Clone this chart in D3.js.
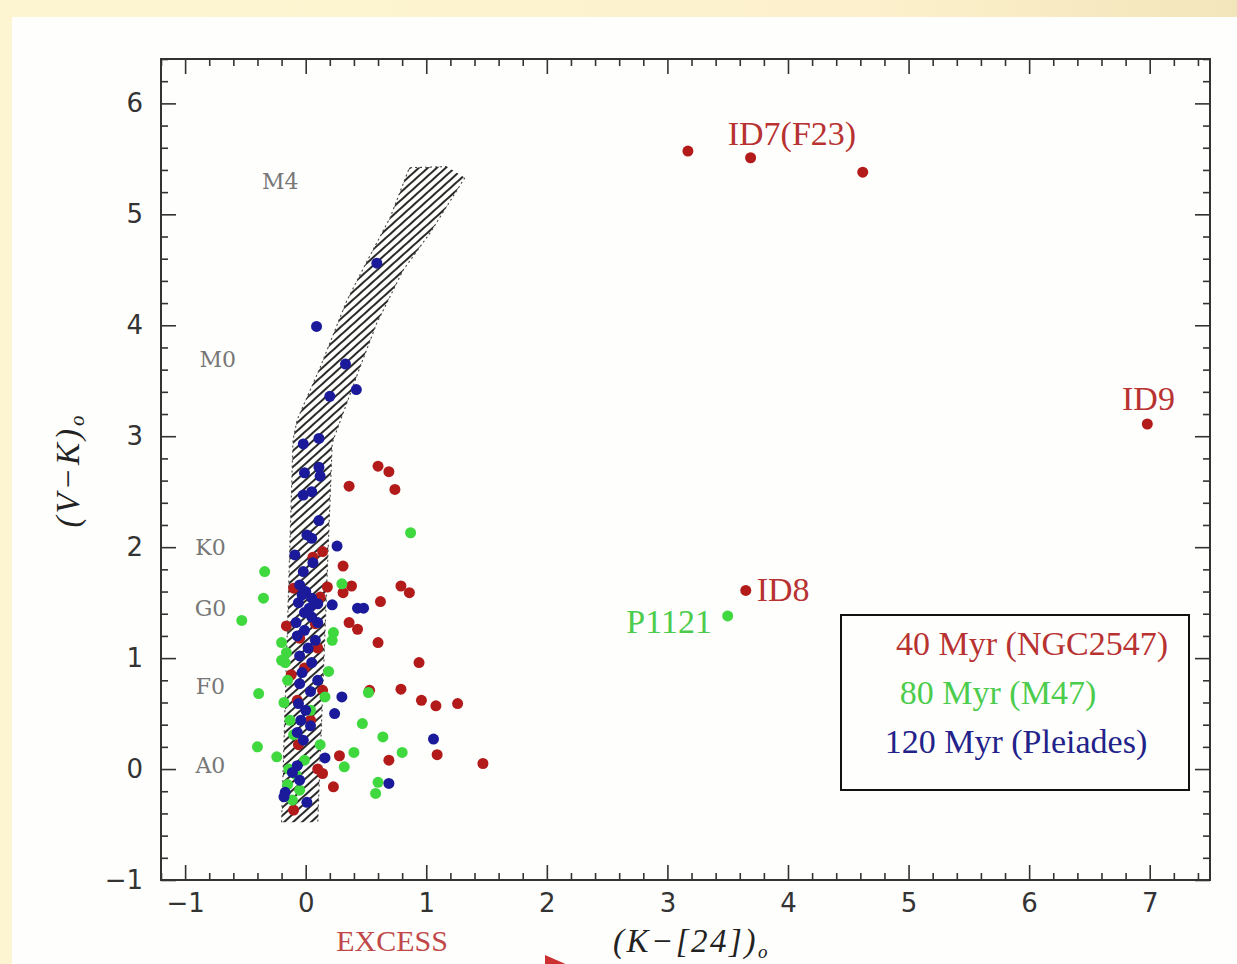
<!DOCTYPE html>
<html>
<head>
<meta charset="utf-8">
<script src="https://cdn.jsdelivr.net/npm/d3@7"></script>
<style>
  html, body { margin: 0; padding: 0; }
  body { width: 1237px; height: 964px; overflow: hidden; background: #fdf4d0; }
  svg { display: block; }
</style>
</head>
<body>
<svg id="chart" width="1237" height="964"></svg>
<script>
// ---- Data: (K-[24])_0 excess vs (V-K)_0 colour ----
// 40 Myr, NGC 2547
const ngc2547 = [
  [3.17, 5.57], [3.69, 5.51], [4.62, 5.38], [6.98, 3.11], [3.65, 1.61], [1.47, 0.05],
  [0.60, 2.73], [0.69, 2.68], [0.36, 2.55], [0.74, 2.52],
  [0.31, 1.83], [0.38, 1.65], [0.31, 1.59], [0.79, 1.65], [0.86, 1.59], [0.62, 1.51],
  [0.36, 1.32], [0.43, 1.26], [0.60, 1.14], [0.94, 0.96], [0.79, 0.72], [0.53, 0.71],
  [0.96, 0.62], [1.08, 0.57], [1.26, 0.59], [0.28, 0.12], [0.69, 0.08], [1.09, 0.13],
  [0.14, -0.04], [0.23, -0.16],
  [0.14, 1.96], [0.06, 1.91], [-0.10, 1.63], [0.18, 1.64], [-0.16, 1.29], [0.08, 1.31],
  [-0.05, 1.18], [0.10, 1.09], [-0.01, 0.91], [0.14, 0.71], [-0.07, 0.62], [0.04, 0.44],
  [-0.06, 0.22], [0.10, 0.00], [-0.10, -0.37], [0.12, 1.55], [-0.12, 0.85]
];
// 80 Myr, M47
const m47 = [
  [3.50, 1.38], [0.87, 2.13], [-0.34, 1.78], [-0.35, 1.54], [-0.53, 1.34], [-0.39, 0.68],
  [-0.40, 0.20], [0.30, 1.67], [0.23, 1.23], [0.22, 1.16], [0.19, 0.88], [0.52, 0.69],
  [0.16, 0.65], [0.47, 0.41], [0.64, 0.29], [0.40, 0.15], [0.80, 0.15], [0.32, 0.02],
  [0.60, -0.12], [0.58, -0.22], [-0.24, 0.11], [-0.18, 0.60], [-0.20, 1.14], [-0.20, 0.98],
  [-0.17, 0.96], [-0.11, -0.28], [-0.13, 0.44], [-0.10, 0.31], [-0.08, -0.05], [-0.15, -0.14],
  [-0.05, -0.19], [-0.01, 0.08], [0.12, 0.22], [0.04, 0.53], [-0.15, 0.80], [-0.16, 1.05],
  [-0.14, 0.00]
];
// 120 Myr, Pleiades
const pleiades = [
  [0.59, 4.56], [0.09, 3.99], [0.33, 3.65], [0.42, 3.42], [0.20, 3.36], [0.11, 2.98],
  [-0.02, 2.93], [-0.01, 2.67], [0.11, 2.72], [0.12, 2.64], [-0.02, 2.47], [0.05, 2.50],
  [0.11, 2.24], [0.01, 2.11], [0.05, 2.08], [-0.09, 1.93], [0.06, 1.86], [-0.02, 1.78],
  [0.26, 2.01], [0.22, 1.48], [0.43, 1.45], [0.48, 1.45], [0.30, 0.65], [0.24, 0.50],
  [1.06, 0.27], [0.16, 0.10], [0.69, -0.13], [-0.17, -0.21], [-0.18, -0.25], [0.01, -0.30],
  [-0.05, 1.66], [0.00, 1.60], [0.05, 1.54], [-0.06, 1.50], [0.10, 1.49], [-0.01, 1.41],
  [0.05, 1.37], [-0.08, 1.32], [0.10, 1.32], [-0.01, 1.25], [-0.07, 1.20], [0.08, 1.16],
  [0.02, 1.09], [-0.05, 1.02], [0.05, 0.96], [-0.03, 0.87], [0.10, 0.80], [-0.05, 0.77],
  [0.04, 0.70], [-0.06, 0.59], [0.00, 0.53], [-0.04, 0.44], [0.04, 0.39], [-0.07, 0.33],
  [-0.02, 0.26], [-0.07, 0.03], [-0.11, -0.03], [-0.05, -0.10], [0.03, 1.45], [-0.03, 1.57]
];

// Photospheric locus band: left edge (bottom to top), then right edge (top to bottom)
const bandLeft = [
  [-0.20, -0.48], [-0.105, 2.97], [-0.07, 3.15], [0.12, 3.62], [0.34, 4.22],
  [0.51, 4.58], [0.70, 4.97], [0.86, 5.42], [1.17, 5.43]
];
const bandRight = [
  [1.32, 5.33], [1.03, 4.83], [0.81, 4.50], [0.59, 4.02], [0.45, 3.62],
  [0.22, 2.94], [0.10, -0.48]
];

// Spectral type markers along the colour axis
const spectralLabels = ["M4", "M0", "K0", "G0", "F0", "A0"];
const spectralX = [-0.21, -0.73, -0.79, -0.79, -0.79, -0.79];
const spectralY = [5.30, 3.69, 2.00, 1.45, 0.74, 0.03];

// Named objects
const idLabels = ["ID7(F23)", "ID9", "ID8", "P1121"];
const idX = [3.50, 6.99, 3.74, 3.37];
const idY = [5.73, 3.34, 1.62, 1.33];
const idAnchor = ["start", "middle", "start", "end"];
const idGroup = ["ngc", "ngc", "ngc", "m47"];

const xTicks = [-1, 0, 1, 2, 3, 4, 5, 6, 7];
const yTicks = [-1, 0, 1, 2, 3, 4, 5, 6];
const legendLabels = ["40 Myr (NGC2547)", "80 Myr (M47)", "120 Myr (Pleiades)"];

// ---- Layout ----
const W = 1237, H = 964;
const frame = { left: 161, right: 1210, top: 59, bottom: 880 };
const colors = { ngc: "#b31b1b", m47: "#3fd93f", ple: "#1a1a9a" };
const textColors = { ngc: "#b83232", m47: "#4ccc4c", ple: "#22228a" };

const svg = d3.select("#chart");

// page background
const defs = svg.append("defs");
const grad = defs.append("linearGradient").attr("id", "bgGrad").attr("x1", 0).attr("x2", 1).attr("y1", 0).attr("y2", 0);
grad.append("stop").attr("offset", "0%").attr("stop-color", "#fdf5d2");
grad.append("stop").attr("offset", "70%").attr("stop-color", "#fcf1cc");
grad.append("stop").attr("offset", "100%").attr("stop-color", "#f3e5bb");
svg.append("rect").attr("width", W).attr("height", H).attr("fill", "url(#bgGrad)");
svg.append("rect").attr("x", 12).attr("y", 17).attr("width", W - 12).attr("height", H - 17).attr("fill", "#fefefc");

// hatch pattern
const pat = defs.append("pattern").attr("id", "hatch")
  .attr("patternUnits", "userSpaceOnUse").attr("width", 6).attr("height", 6)
  .attr("patternTransform", "rotate(-42)");
pat.append("line").attr("x1", 0).attr("y1", 3).attr("x2", 6).attr("y2", 3)
  .attr("stroke", "#111").attr("stroke-width", 1.8);

const x = d3.scaleLinear().domain([-1.2, 7.5]).range([frame.left, frame.right]);
const y = d3.scaleLinear().domain([-1, 6.4]).range([frame.bottom, frame.top]);

// ---- Locus band ----
const bandPoly = bandLeft.concat(bandRight);
const line = d3.line().x(d => x(d[0])).y(d => y(d[1]));
svg.append("path").attr("d", line(bandPoly) + "Z")
  .attr("fill", "url(#hatch)").attr("stroke", "none");
svg.append("path").attr("d", line(bandLeft))
  .attr("fill", "none").attr("stroke", "#444").attr("stroke-width", 1.1).attr("stroke-dasharray", "2,3");
svg.append("path").attr("d", line(bandRight))
  .attr("fill", "none").attr("stroke", "#444").attr("stroke-width", 1.1).attr("stroke-dasharray", "2,3");

// ---- Points ----
function drawSeries(data, color) {
  svg.append("g").selectAll("circle").data(data).join("circle")
    .attr("cx", d => x(d[0])).attr("cy", d => y(d[1])).attr("r", 5.5)
    .attr("fill", color);
}
drawSeries(ngc2547, colors.ngc);
drawSeries(m47, colors.m47);
drawSeries(pleiades, colors.ple);

// ---- Frame and ticks ----
const minorX = d3.range(-1.2, 7.5, 0.2).map(v => +v.toFixed(1)).filter(v => Math.abs(v - Math.round(v)) > 1e-6);
const minorY = d3.range(-1, 6.41, 0.2).map(v => +v.toFixed(1)).filter(v => Math.abs(v - Math.round(v)) > 1e-6);
const MAJ = 15, MIN = 7;

function axisGroup(axis, tx, ty) {
  const g = svg.append("g").attr("transform", `translate(${tx},${ty})`).call(axis);
  g.select(".domain").remove();
  g.selectAll(".tick line").attr("stroke", "#333").attr("stroke-width", 1.6);
  return g;
}
const fmt = d => d < 0 ? "\u2212" + Math.abs(d) : String(d);

// bottom
axisGroup(d3.axisBottom(x).tickValues(minorX).tickSize(-MIN).tickFormat(""), 0, frame.bottom);
const gb = axisGroup(d3.axisBottom(x).tickValues(xTicks).tickSize(-MAJ).tickPadding(14).tickFormat(fmt), 0, frame.bottom);
// top
axisGroup(d3.axisTop(x).tickValues(minorX).tickSize(-MIN).tickFormat(""), 0, frame.top);
axisGroup(d3.axisTop(x).tickValues(xTicks).tickSize(-MAJ).tickFormat(""), 0, frame.top);
// left
axisGroup(d3.axisLeft(y).tickValues(minorY).tickSize(-MIN).tickFormat(""), frame.left, 0);
const gl = axisGroup(d3.axisLeft(y).tickValues(yTicks).tickSize(-MAJ).tickPadding(18).tickFormat(fmt), frame.left, 0);
// right
axisGroup(d3.axisRight(y).tickValues(minorY).tickSize(-MIN).tickFormat(""), frame.right, 0);
axisGroup(d3.axisRight(y).tickValues(yTicks).tickSize(-MAJ).tickFormat(""), frame.right, 0);

[gb, gl].forEach(g => g.selectAll(".tick text")
  .attr("font-family", "'DejaVu Sans', sans-serif").attr("font-size", 26)
  .attr("fill", "#333"));

svg.append("rect")
  .attr("x", frame.left).attr("y", frame.top)
  .attr("width", frame.right - frame.left).attr("height", frame.bottom - frame.top)
  .attr("fill", "none").attr("stroke", "#333").attr("stroke-width", 2);

// ---- Spectral type labels ----
svg.append("g").selectAll("text").data(spectralLabels).join("text")
  .attr("x", (d, i) => x(spectralX[i])).attr("y", (d, i) => y(spectralY[i]))
  .attr("text-anchor", "middle").attr("dominant-baseline", "central")
  .attr("font-family", "'DejaVu Serif', serif").attr("font-size", 22)
  .attr("fill", "#777").text(d => d);

// ---- Object labels ----
svg.append("g").selectAll("text").data(idLabels).join("text")
  .attr("x", (d, i) => x(idX[i])).attr("y", (d, i) => y(idY[i]))
  .attr("text-anchor", (d, i) => idAnchor[i]).attr("dominant-baseline", "central")
  .attr("font-family", "'Liberation Serif', serif").attr("font-size", 34)
  .attr("fill", (d, i) => textColors[idGroup[i]]).text(d => d);

// ---- Legend ----
const lg = svg.append("g");
lg.append("rect").attr("x", 841).attr("y", 615).attr("width", 348).attr("height", 175)
  .attr("fill", "#fefefc").attr("stroke", "#111").attr("stroke-width", 2);
const legendX = [1032, 998, 1016];
const legendColor = [textColors.ngc, textColors.m47, textColors.ple];
lg.selectAll("text.lab").data(legendLabels).join("text").attr("class", "lab")
  .attr("x", (d, i) => legendX[i]).attr("y", (d, i) => 643 + i * 49)
  .attr("text-anchor", "middle").attr("dominant-baseline", "central")
  .attr("font-family", "'Liberation Serif', serif").attr("font-size", 34)
  .attr("fill", (d, i) => legendColor[i]).text(d => d);

// ---- Axis titles ----
const ylab = svg.append("text")
  .attr("transform", "translate(68,470) rotate(-90)")
  .attr("text-anchor", "middle").attr("dominant-baseline", "central")
  .attr("font-family", "'Liberation Serif', serif").attr("font-style", "italic")
  .attr("font-size", 33).attr("letter-spacing", 3).attr("fill", "#222");
ylab.append("tspan").text("(V\u2212K)");
ylab.append("tspan").attr("font-size", 21).attr("dy", 9).text("o");

const xlab = svg.append("text")
  .attr("x", 613).attr("y", 952)
  .attr("font-family", "'Liberation Serif', serif").attr("font-style", "italic")
  .attr("font-size", 33).attr("letter-spacing", 2.5).attr("fill", "#222");
xlab.append("tspan").text("(K\u2212[24])");
xlab.append("tspan").attr("font-size", 19).attr("dy", 6).text("o");

// ---- Excess annotation ----
svg.append("text").attr("x", 392).attr("y", 940)
  .attr("text-anchor", "middle").attr("dominant-baseline", "central")
  .attr("font-family", "'Liberation Serif', serif").attr("font-size", 30)
  .attr("fill", "#c04848").text("EXCESS");
svg.append("path").attr("d", "M545,955 L570,966 L545,977 Z").attr("fill", "#cc3030");
</script>
</body>
</html>
